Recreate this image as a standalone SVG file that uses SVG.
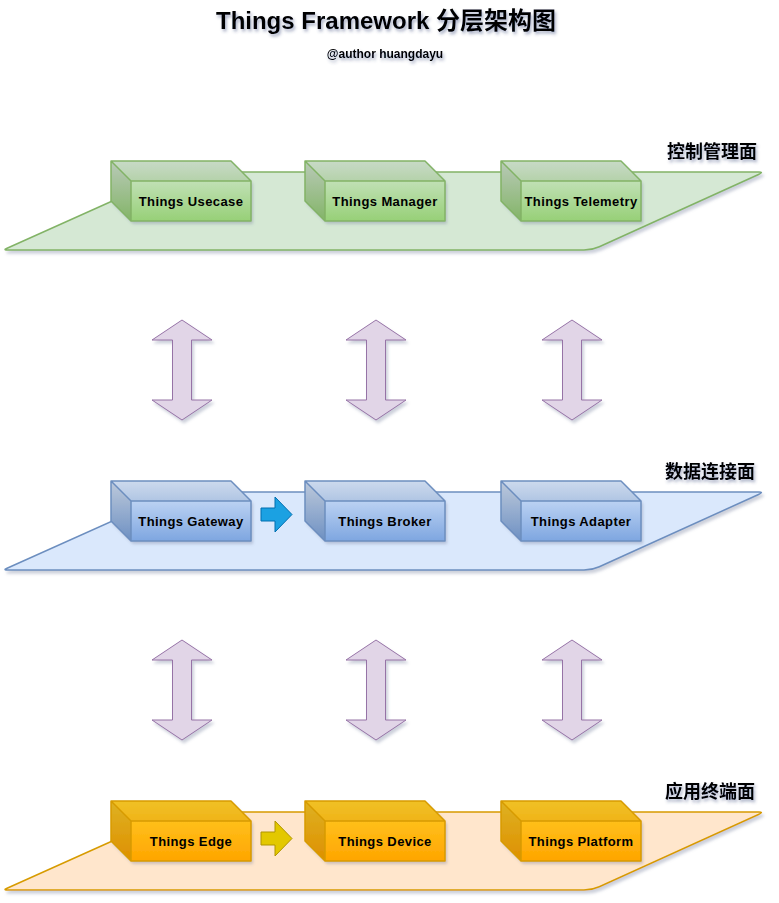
<svg xmlns="http://www.w3.org/2000/svg" width="779" height="903" viewBox="0 0 779 903">
<style>
.t{font-family:"Liberation Sans",Arial,"Noto Sans CJK SC",sans-serif;font-weight:bold;fill:#000;text-anchor:middle}
.node{font-size:13px;letter-spacing:0.4px}
.lbl{font-size:18px}
.dark1{fill:#000;fill-opacity:0.06}
.dark2{fill:#000;fill-opacity:0.13}
.edge{fill:none;stroke-width:1.5;stroke-linejoin:round}
.g{stroke:#82b366}.b{stroke:#6c8ebf}.o{stroke:#d79b00}
.da{fill:#e1d5e7;stroke:#9673a6;stroke-width:1}
</style>
<defs>
<filter id="sh" x="-10%" y="-10%" width="130%" height="140%">
<feDropShadow dx="2" dy="3" stdDeviation="1.5" flood-color="#6d7a99" flood-opacity="0.35"/>
</filter>
<filter id="tsh" x="-10%" y="-30%" width="130%" height="180%">
<feDropShadow dx="1.5" dy="2.5" stdDeviation="1.8" flood-color="#3a4a7a" flood-opacity="0.45"/>
</filter>
<linearGradient id="gg" x1="0" y1="0" x2="0" y2="1"><stop offset="0" stop-color="#d5e8d4"/><stop offset="1" stop-color="#97d077"/></linearGradient>
<linearGradient id="gb" x1="0" y1="0" x2="0" y2="1"><stop offset="0" stop-color="#dae8fc"/><stop offset="1" stop-color="#7ea6e0"/></linearGradient>
<linearGradient id="go" x1="0" y1="0" x2="0" y2="1"><stop offset="0" stop-color="#ffcd28"/><stop offset="1" stop-color="#ffa500"/></linearGradient>
</defs>

<g id="title">
<text class="t" x="386" y="29" font-size="24" filter="url(#tsh)">Things Framework 分层架构图</text>
<text class="t" x="385" y="58" font-size="12" filter="url(#tsh)">@author huangdayu</text>
</g>

<!-- planes -->
<g id="plane-control">
<path filter="url(#sh)" d="M8,250 L584,250 Q592,250 599.3,246.7 L758.5,174.5 Q764,172 759,172 L185,172 Q177,172 169.7,175.3 L6.5,248.5 Q3,250 8,250 Z" fill="#d5e8d4" stroke="#82b366" stroke-width="1.5"/>
<text class="t lbl" x="712" y="158" filter="url(#tsh)">控制管理面</text>
</g>
<g id="plane-data">
<path filter="url(#sh)" d="M8,570 L584,570 Q592,570 599.3,566.7 L758.5,494.5 Q764,492 759,492 L185,492 Q177,492 169.7,495.3 L6.5,568.5 Q3,570 8,570 Z" fill="#dae8fc" stroke="#6c8ebf" stroke-width="1.5"/>
<text class="t lbl" x="710" y="478" filter="url(#tsh)">数据连接面</text>
</g>
<g id="plane-app">
<path filter="url(#sh)" d="M8,890 L584,890 Q592,890 599.3,886.7 L758.5,814.5 Q764,812 759,812 L185,812 Q177,812 169.7,815.3 L6.5,888.5 Q3,890 8,890 Z" fill="#ffe6cc" stroke="#d79b00" stroke-width="1.5"/>
<text class="t lbl" x="710" y="798" filter="url(#tsh)">应用终端面</text>
</g>

<!-- cubes: control -->
<g id="things-usecase" transform="translate(111,161)">
<path filter="url(#sh)" d="M0,0 L120,0 L140,20 L140,60 L20,60 L0,40 Z" fill="url(#gg)"/>
<path class="dark1" d="M0,0 L120,0 L140,20 L20,20 Z"/><path class="dark2" d="M0,0 L20,20 L20,60 L0,40 Z"/>
<path class="edge g" d="M0,0 L120,0 L140,20 L140,60 L20,60 L0,40 Z M0,0 L20,20 L140,20 M20,20 L20,60"/>
<text class="t node" x="80" y="44.5">Things Usecase</text>
</g>
<g id="things-manager" transform="translate(305,161)">
<path filter="url(#sh)" d="M0,0 L120,0 L140,20 L140,60 L20,60 L0,40 Z" fill="url(#gg)"/>
<path class="dark1" d="M0,0 L120,0 L140,20 L20,20 Z"/><path class="dark2" d="M0,0 L20,20 L20,60 L0,40 Z"/>
<path class="edge g" d="M0,0 L120,0 L140,20 L140,60 L20,60 L0,40 Z M0,0 L20,20 L140,20 M20,20 L20,60"/>
<text class="t node" x="80" y="44.5">Things Manager</text>
</g>
<g id="things-telemetry" transform="translate(501,161)">
<path filter="url(#sh)" d="M0,0 L120,0 L140,20 L140,60 L20,60 L0,40 Z" fill="url(#gg)"/>
<path class="dark1" d="M0,0 L120,0 L140,20 L20,20 Z"/><path class="dark2" d="M0,0 L20,20 L20,60 L0,40 Z"/>
<path class="edge g" d="M0,0 L120,0 L140,20 L140,60 L20,60 L0,40 Z M0,0 L20,20 L140,20 M20,20 L20,60"/>
<text class="t node" x="80" y="44.5">Things Telemetry</text>
</g>

<!-- cubes: data -->
<g id="things-gateway" transform="translate(111,481)">
<path filter="url(#sh)" d="M0,0 L120,0 L140,20 L140,60 L20,60 L0,40 Z" fill="url(#gb)"/>
<path class="dark1" d="M0,0 L120,0 L140,20 L20,20 Z"/><path class="dark2" d="M0,0 L20,20 L20,60 L0,40 Z"/>
<path class="edge b" d="M0,0 L120,0 L140,20 L140,60 L20,60 L0,40 Z M0,0 L20,20 L140,20 M20,20 L20,60"/>
<text class="t node" x="80" y="44.5">Things Gateway</text>
</g>
<g id="things-broker" transform="translate(305,481)">
<path filter="url(#sh)" d="M0,0 L120,0 L140,20 L140,60 L20,60 L0,40 Z" fill="url(#gb)"/>
<path class="dark1" d="M0,0 L120,0 L140,20 L20,20 Z"/><path class="dark2" d="M0,0 L20,20 L20,60 L0,40 Z"/>
<path class="edge b" d="M0,0 L120,0 L140,20 L140,60 L20,60 L0,40 Z M0,0 L20,20 L140,20 M20,20 L20,60"/>
<text class="t node" x="80" y="44.5">Things Broker</text>
</g>
<g id="things-adapter" transform="translate(501,481)">
<path filter="url(#sh)" d="M0,0 L120,0 L140,20 L140,60 L20,60 L0,40 Z" fill="url(#gb)"/>
<path class="dark1" d="M0,0 L120,0 L140,20 L20,20 Z"/><path class="dark2" d="M0,0 L20,20 L20,60 L0,40 Z"/>
<path class="edge b" d="M0,0 L120,0 L140,20 L140,60 L20,60 L0,40 Z M0,0 L20,20 L140,20 M20,20 L20,60"/>
<text class="t node" x="80" y="44.5">Things Adapter</text>
</g>

<!-- cubes: app -->
<g id="things-edge" transform="translate(111,801)">
<path filter="url(#sh)" d="M0,0 L120,0 L140,20 L140,60 L20,60 L0,40 Z" fill="url(#go)"/>
<path class="dark1" d="M0,0 L120,0 L140,20 L20,20 Z"/><path class="dark2" d="M0,0 L20,20 L20,60 L0,40 Z"/>
<path class="edge o" d="M0,0 L120,0 L140,20 L140,60 L20,60 L0,40 Z M0,0 L20,20 L140,20 M20,20 L20,60"/>
<text class="t node" x="80" y="44.5">Things Edge</text>
</g>
<g id="things-device" transform="translate(305,801)">
<path filter="url(#sh)" d="M0,0 L120,0 L140,20 L140,60 L20,60 L0,40 Z" fill="url(#go)"/>
<path class="dark1" d="M0,0 L120,0 L140,20 L20,20 Z"/><path class="dark2" d="M0,0 L20,20 L20,60 L0,40 Z"/>
<path class="edge o" d="M0,0 L120,0 L140,20 L140,60 L20,60 L0,40 Z M0,0 L20,20 L140,20 M20,20 L20,60"/>
<text class="t node" x="80" y="44.5">Things Device</text>
</g>
<g id="things-platform" transform="translate(501,801)">
<path filter="url(#sh)" d="M0,0 L120,0 L140,20 L140,60 L20,60 L0,40 Z" fill="url(#go)"/>
<path class="dark1" d="M0,0 L120,0 L140,20 L20,20 Z"/><path class="dark2" d="M0,0 L20,20 L20,60 L0,40 Z"/>
<path class="edge o" d="M0,0 L120,0 L140,20 L140,60 L20,60 L0,40 Z M0,0 L20,20 L140,20 M20,20 L20,60"/>
<text class="t node" x="80" y="44.5">Things Platform</text>
</g>

<!-- connectors -->
<g id="connectors">
<path class="da" filter="url(#sh)" d="M182,320 L212,340 L191.5,340 L191.5,400 L212,400 L182,420 L152,400 L172.5,400 L172.5,340 L152,340 Z"/>
<path class="da" filter="url(#sh)" d="M376,320 L406,340 L385.5,340 L385.5,400 L406,400 L376,420 L346,400 L366.5,400 L366.5,340 L346,340 Z"/>
<path class="da" filter="url(#sh)" d="M572,320 L602,340 L581.5,340 L581.5,400 L602,400 L572,420 L542,400 L562.5,400 L562.5,340 L542,340 Z"/>
<path class="da" filter="url(#sh)" d="M182,640 L212,660 L191.5,660 L191.5,720 L212,720 L182,740 L152,720 L172.5,720 L172.5,660 L152,660 Z"/>
<path class="da" filter="url(#sh)" d="M376,640 L406,660 L385.5,660 L385.5,720 L406,720 L376,740 L346,720 L366.5,720 L366.5,660 L346,660 Z"/>
<path class="da" filter="url(#sh)" d="M572,640 L602,660 L581.5,660 L581.5,720 L602,720 L572,740 L542,720 L562.5,720 L562.5,660 L542,660 Z"/>
<path d="M261,508 L275,508 L275,497 L292,514.5 L275,532 L275,521 L261,521 Z" fill="#1ba1e2" stroke="#006eaf" stroke-width="1"/>
<path d="M261,832 L275,832 L275,821 L292,838.5 L275,856 L275,845 L261,845 Z" fill="#e3c800" stroke="#b09500" stroke-width="1"/>
</g>
</svg>
